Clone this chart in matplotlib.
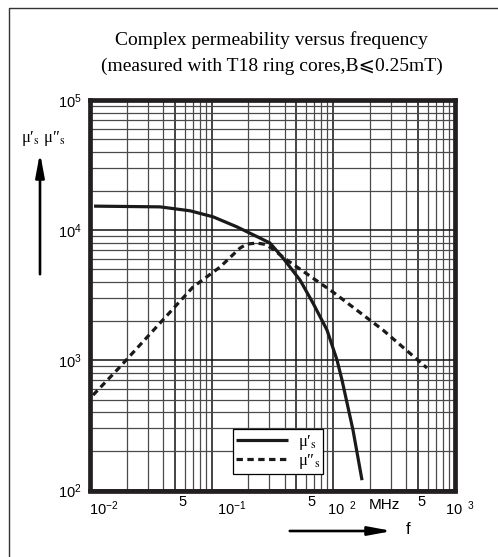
import matplotlib
matplotlib.use("Agg")
import matplotlib.pyplot as plt
from matplotlib.lines import Line2D
from matplotlib.patches import FancyArrowPatch
from matplotlib.ticker import LogLocator, NullFormatter
from matplotlib.font_manager import FontProperties
import matplotlib.transforms as mtransforms

plt.rcParams['font.family'] = ['Liberation Sans', 'DejaVu Sans']
plt.rcParams['mathtext.fontset'] = 'custom'
plt.rcParams['mathtext.rm'] = 'Liberation Sans'
plt.rcParams['mathtext.it'] = 'Liberation Sans'

# mu' (solid) and mu'' (dashed), frequency in MHz
f_re = [0.0108, 0.0377, 0.0665, 0.1029, 0.1612, 0.2507, 0.3031, 0.3878, 0.5352,
        0.6844, 0.8925, 1.079, 1.186, 1.461, 1.733]
mu_re = [15300, 15100, 14090, 12670, 10620, 8698, 7960, 6107, 4137,
         2755, 1709, 1005, 706, 291, 120]
f_im = [0.0106, 0.017, 0.0704, 0.1175, 0.1716, 0.195, 0.2368, 0.276, 0.3031,
        0.4181, 1.0, 2.579, 5.938]
mu_im = [541, 858, 3656, 5206, 7287, 7820, 7960, 7780, 7418,
         5894, 3346, 1709, 873]

xt_pos = [0.01, 0.05, 0.1, 0.5, 1, 5, 10]
xt_lab = [r'$10^{-2}$', '5', r'$10^{-1}$', '5', r'$10^{\ \ 2}$', '5', r'$10^{\ \ 3}$']
yt_pos = [1e2, 1e3, 1e4, 1e5]
yt_lab = [r'$10^{2}$', r'$10^{3}$', r'$10^{4}$', r'$10^{5}$']

serif = ['Liberation Serif', 'DejaVu Sans', 'DejaVu Serif', 'Noto Sans CJK JP']
lab_re = '\u03bc\u2032$_\\mathrm{s}$'
lab_im = '\u03bc\u2033$_\\mathrm{s}$'

W, H = 498, 557
fig = plt.figure(figsize=(W / 100, H / 100), dpi=100)
ax = fig.add_axes([90 / W, 1 - 490.5 / H, 364.5 / W, 390.5 / H])
ax.set_xscale('log'); ax.set_yscale('log')
ax.set_xlim(0.01, 10); ax.set_ylim(1e2, 1e5)

ax.xaxis.set_minor_locator(LogLocator(base=10, subs=range(2, 10), numticks=20))
ax.yaxis.set_minor_locator(LogLocator(base=10, subs=range(2, 10), numticks=20))
ax.xaxis.set_minor_formatter(NullFormatter())
ax.yaxis.set_minor_formatter(NullFormatter())
ax.grid(which='major', color='#111111', lw=1.1)
ax.grid(which='minor', color='#4a4a4a', lw=0.9)
ax.set_axisbelow(True)
for s in ax.spines.values():
    s.set_linewidth(3.4); s.set_color('#231f20')
ax.tick_params(which='both', length=0)

ax.plot(f_re, mu_re, color='#1a1a1a', lw=2.3, solid_capstyle='butt', label=lab_re)
ax.plot(f_im, mu_im, color='#1a1a1a', lw=2.3, dashes=(2.0, 1.4), label=lab_im)

ax.set_yticks(yt_pos)
ax.set_yticklabels(yt_lab, fontsize=10.5)
ax.tick_params(axis='y', pad=6)
ax.set_xticks(xt_pos)
ax.set_xticklabels([])
trans = mtransforms.blended_transform_factory(ax.transData, ax.transAxes)
x_dx = [13.5, 8, 20.5, 14.6, 8.5, 4, 5]
for p, lab, dx in zip(xt_pos, xt_lab, x_dx):
    dy = -11.5 if lab == '5' else -18.5
    ax.annotate(lab, xy=(p, 0), xycoords=trans, xytext=(dx, dy),
                textcoords='offset pixels', ha='center', va='center', fontsize=10.5)
ax.text(0.8066, -0.037, 'MHz', transform=ax.transAxes, ha='center', va='center',
        fontsize=11)

leg = ax.legend(loc='lower left', bbox_to_anchor=(0.392, 0.042), borderaxespad=0,
                fancybox=False, framealpha=1, edgecolor='black',
                handlelength=3.1, handletextpad=0.6, borderpad=0.2, labelspacing=0.0,
                prop=FontProperties(family=serif, size=12, math_fontfamily='stix'))
leg.get_frame().set_linewidth(0.9)

# titles
fig.text(271 / W, 1 - 40 / H, 'Complex permeability versus frequency',
         ha='center', va='center', fontsize=14, family=serif)
fig.text(272 / W, 1 - 66 / H, '(measured with T18 ring cores,B\u2a7d0.25mT)',
         ha='center', va='center', fontsize=14, family=serif)

# y label with arrow
fig.text(43 / W, 1 - 138 / H, lab_re + ' ' + lab_im, ha='center', va='center',
         fontsize=12, family=serif, math_fontfamily='stix')
fig.add_artist(FancyArrowPatch(
    (40 / W, 1 - 277 / H), (40 / W, 1 - 150 / H), transform=fig.transFigure,
    arrowstyle='-|>,head_length=14,head_width=2.6', color='black', lw=1.9))
# x label with arrow
fig.add_artist(FancyArrowPatch(
    (287 / W, 1 - 531 / H), (395 / W, 1 - 531 / H), transform=fig.transFigure,
    arrowstyle='-|>,head_length=14,head_width=2.6', color='black', lw=1.9))
fig.text(408 / W, 1 - 530 / H, 'f', ha='center', va='center', fontsize=12)

# outer frame
fig.add_artist(Line2D([9 / W, 9 / W, 1], [0, 1 - 8 / H, 1 - 8 / H],
                      transform=fig.transFigure, color='#333333', lw=1.0))

fig.savefig('out.png', dpi=100)
